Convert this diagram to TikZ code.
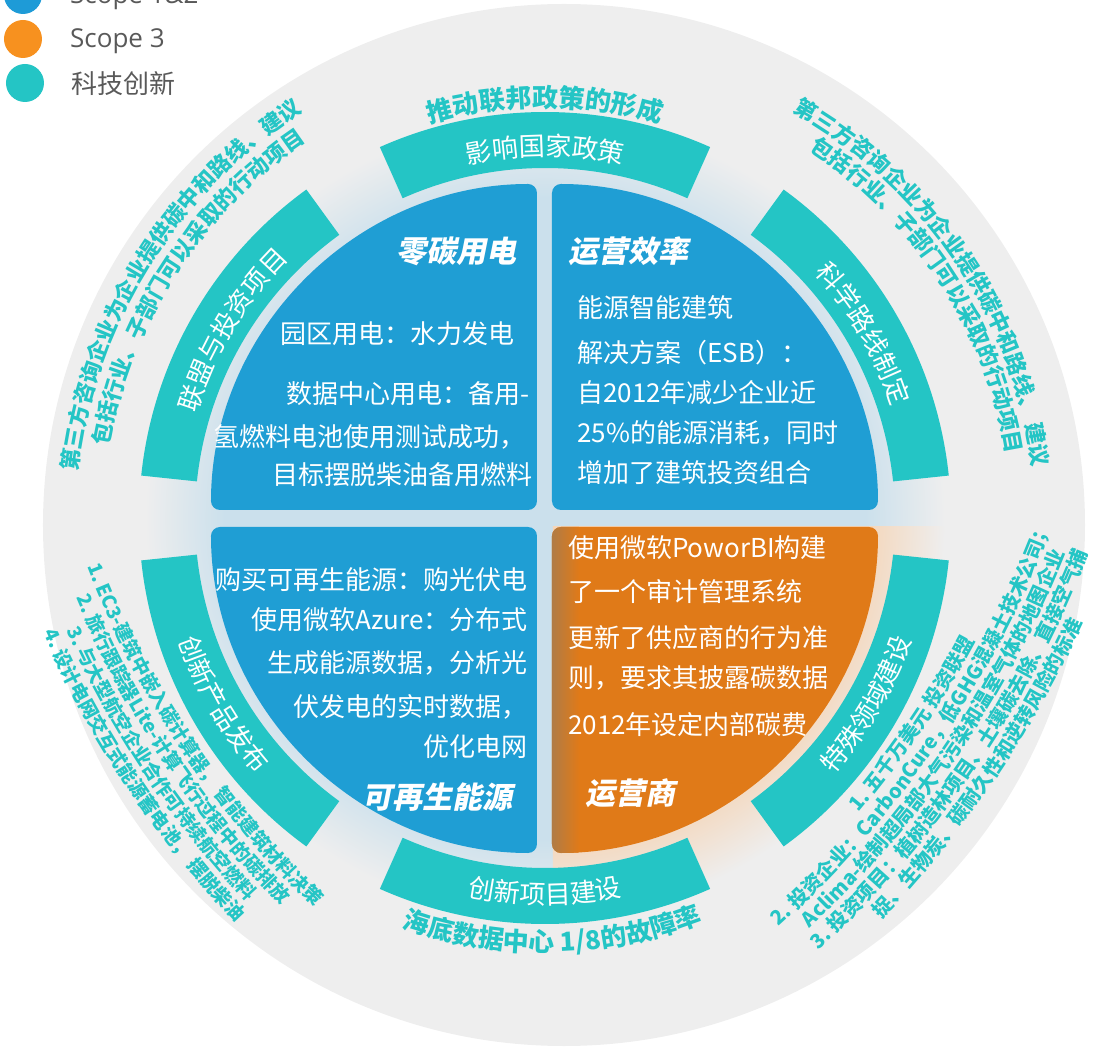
\documentclass[tikz,border=0pt]{standalone}
\usepackage{fontspec}
\setmainfont{Noto Sans CJK SC}
\newfontfamily\titlefont{Noto Sans CJK SC}[FakeSlant=0.2]
\newfontfamily\keyfont{Open Sans}
\usetikzlibrary{
        decorations.text,
        positioning
    }

\definecolor{greyc}{RGB}{238,238,238}
\definecolor{tealc}{RGB}{36,197,197}
\definecolor{bluec}{RGB}{31,158,212}
\definecolor{orngc}{RGB}{224,122,24}
\definecolor{orngdark}{RGB}{176,124,70}
\definecolor{glowb}{RGB}{203,224,236}
\definecolor{glowo}{RGB}{244,214,186}
\definecolor{keyblue}{RGB}{30,155,215}
\definecolor{keyorng}{RGB}{247,145,31}
\definecolor{keygrey}{RGB}{89,89,89}

\pgfdeclareradialshading{glowblue}{\pgfpointorigin}{color(0bp)=(glowb); color(20bp)=(glowb); color(25bp)=(greyc); color(50bp)=(greyc)}
\pgfdeclareradialshading{gloworange}{\pgfpointorigin}{color(0bp)=(glowo); color(20bp)=(glowo); color(25bp)=(greyc); color(50bp)=(greyc)}

\newcommand\outerfont{\bfseries\fontsize{22}{22}\selectfont}
\newcommand\listfont{\bfseries\fontsize{19}{19}\selectfont}
\newcommand\listfontb{\bfseries\fontsize{20}{20}\selectfont}
\newcommand\ringfont{\fontsize{26}{26}\selectfont}
\newcommand\capfont{\bfseries\fontsize{26}{26}\selectfont}

\begin{document}
\begin{tikzpicture}
[x=1pt, y=1pt,
band/.style={fill=tealc},
quad/.style={rounded corners=9pt},
bodytext/.style={text=white, inner sep=0pt, font=\fontsize{26}{26}\selectfont},
titletext/.style={text=white, inner sep=0pt, font=\titlefont\bfseries\fontsize{30}{30}\selectfont},
dot/.style={circle, minimum size=38pt, inner sep=0pt},
keytext/.style={text=keygrey, inner sep=0pt, anchor=west},
]
\useasboundingbox (-545,-539) rectangle (553,518);

% background disc and glow
\fill[greyc] (19,-7) circle[radius=521];
\shade[shading=glowblue] (0,0) circle[radius=400];
\begin{scope}
\clip (8,-9) rectangle (420,-420);
\shade[shading=gloworange] (0,0) circle[radius=400];
\end{scope}

% ring of six bands
\foreach \a in {90,30,-30,-90,-150,150}
  \fill[band] (\a-24:350) arc[start angle=\a-24, end angle=\a+24, radius=350]
    -- (\a+24:406) arc[start angle=\a+24, end angle=\a-24, radius=406] -- cycle;

% four quadrants
\fill[quad, bluec] (-8,8) -- (-8,334) arc[start angle=90, end angle=180, radius=326] -- cycle;
\fill[quad, bluec] (7,8) -- (333,8) arc[start angle=0, end angle=90, radius=326] -- cycle;
\fill[quad, bluec] (-8,-9) -- (-334,-9) arc[start angle=180, end angle=270, radius=326] -- cycle;
\fill[quad, orngc] (7,-9) -- (7,-335) arc[start angle=270, end angle=360, radius=326] -- cycle;
\begin{scope}
\clip[quad] (7,-9) -- (7,-335) arc[start angle=270, end angle=360, radius=326] -- cycle;
\shade[left color=orngdark, right color=orngc] (7,-340) rectangle (34,-5);
\end{scope}

% texts on the bands
\path[decorate, decoration={text along path, text align=center, text color=white, text={|\ringfont|影响国家政策}}]
  (130:362) arc[start angle=130, end angle=50, radius=362];
\path[decorate, decoration={text along path, text align=center, text color=white, text={|\ringfont|科学路线制定}}]
  (70:364) arc[start angle=70, end angle=-10, radius=364];
\path[decorate, decoration={text along path, text align=center, text color=white, text={|\ringfont|联盟与投资项目}}]
  (189:364) arc[start angle=189, end angle=109, radius=364];
\path[decorate, decoration={text along path, text align=center, text color=white, text={|\ringfont|特殊领域建设}}]
  (-70:386) arc[start angle=-70, end angle=10, radius=386];
\path[decorate, decoration={text along path, text align=center, text color=white, text={|\ringfont|创新项目建设}}]
  (-130:386) arc[start angle=-130, end angle=-50, radius=386];
\path[decorate, decoration={text along path, text align=center, text color=white, text={|\ringfont|创新产品发布}}]
  (170:386) arc[start angle=170, end angle=250, radius=386];

% texts outside the bands
\path[decorate, decoration={text along path, text align=center, text color=tealc, text={|\capfont|推动联邦政策的形成}}]
  (130:411) arc[start angle=130, end angle=50, radius=411];
\path[decorate, decoration={text along path, text align=center, text color=tealc, text={|\capfont|海底数据中心 1/8的故障率}}]
  (-129:434) arc[start angle=-129, end angle=-49, radius=434];

\path[shift={(19,-7)}, decorate, decoration={text along path, text align=center, text color=tealc, text={|\outerfont|第三方咨询企业为企业提供碳中和路线、建议}}]
  (188:489) arc[start angle=188, end angle=108, radius=489];
\path[shift={(19,-7)}, decorate, decoration={text along path, text align=center, text color=tealc, text={|\outerfont|包括行业、子部门可以采取的行动项目}}]
  (187:462) arc[start angle=187, end angle=107, radius=462];
\path[shift={(19,-7)}, decorate, decoration={text along path, text align=center, text color=tealc, text={|\outerfont|第三方咨询企业为企业提供碳中和路线、 建议}}]
  (74:472) arc[start angle=74, end angle=-6, radius=472];
\path[shift={(19,-7)}, decorate, decoration={text along path, text align=center, text color=tealc, text={|\outerfont|包括行业、子部门可以采取的行动项目}}]
  (73:448) arc[start angle=73, end angle=-7, radius=448];

% numbered lists, lower left
\path[shift={(420,291)}, decorate, decoration={text along path, text align=center, text color=tealc, text={|\listfont|1. EC3-建筑中嵌入碳计算器， 智能建筑材料决策}}]
  (183.7:941) arc[start angle=183.7, end angle=243.7, radius=941];
\path[shift={(420,291)}, decorate, decoration={text along path, text align=center, text color=tealc, text={|\listfont|2. 旅行跟踪器Lite-计算飞行过程中的碳排放}}]
  (183.7:963) arc[start angle=183.7, end angle=243.7, radius=963];
\path[shift={(420,291)}, decorate, decoration={text along path, text align=center, text color=tealc, text={|\listfont|3. 与大型航空企业合作可持续航空燃料}}]
  (183.7:985) arc[start angle=183.7, end angle=243.7, radius=985];
\path[shift={(420,291)}, decorate, decoration={text along path, text align=center, text color=tealc, text={|\listfont|4. 设计电网交互式能源蓄电池， 摆脱柴油}}]
  (183.7:1007) arc[start angle=183.7, end angle=243.7, radius=1007];

% numbered lists, lower right
\path[shift={(-455,353)}, decorate, decoration={text along path, text align=center, text color=tealc, text={|\listfontb|1. 五千万美元 投资联盟}}]
  (-64.2:1005) arc[start angle=-64.2, end angle=-4.2, radius=1005];
\path[shift={(-455,353)}, decorate, decoration={text along path, text align=center, text color=tealc, text={|\listfontb|2. 投资企业：CarbonCure，低GHG混凝土技术公司；}}]
  (-64.2:1027) arc[start angle=-64.2, end angle=-4.2, radius=1027];
\path[shift={(-455,353)}, decorate, decoration={text along path, text align=center, text color=tealc, text={|\listfontb|Aclima-绘制超局部大气污染和温室气体的地图企业}}]
  (-64.2:1049) arc[start angle=-64.2, end angle=-4.2, radius=1049];
\path[shift={(-455,353)}, decorate, decoration={text along path, text align=center, text color=tealc, text={|\listfontb|3. 投资项目：植树造林项目、土壤碳去除、直接空气捕}}]
  (-64.2:1071) arc[start angle=-64.2, end angle=-4.2, radius=1071];
\path[shift={(-455,353)}, decorate, decoration={text along path, text align=center, text color=tealc, text={|\listfontb|捉、生物炭、碳耐久性和逆转风险的标准}}]
  (-64.2:1093) arc[start angle=-64.2, end angle=-4.2, radius=1093];

% quadrant texts
\node[titletext] (ul0) at (-88,267) {零碳用电};
\node[bodytext] (ul1) at (-147,184) {园区用电：水力发电};
\node[bodytext] (ul2) at (-137,124) {数据中心用电：备用-};
\node[bodytext] (ul3) at (-175,81) {氢燃料电池使用测试成功，};
\node[bodytext] (ul4) at (-142,43) {目标摆脱柴油备用燃料};

\node[titletext] (ur0) at (84,267) {运营效率};
\node[bodytext, anchor=west] (ur1) at (32,210) {能源智能建筑};
\node[bodytext, anchor=west] (ur2) at (32,165) {解决方案（ESB）：};
\node[bodytext, anchor=west] (ur3) at (32,125) {自2012年减少企业近};
\node[bodytext, anchor=west] (ur4) at (32,85) {25\%的能源消耗，同时};
\node[bodytext, anchor=west] (ur5) at (32,45) {增加了建筑投资组合};

\node[bodytext, anchor=east] (ll1) at (-17,-62) {购买可再生能源：购光伏电};
\node[bodytext, anchor=east] (ll2) at (-17,-102) {使用微软Azure：分布式};
\node[bodytext, anchor=east] (ll3) at (-17,-145) {生成能源数据，分析光};
\node[bodytext, anchor=east] (ll4) at (-17,-189) {伏发电的实时数据，};
\node[bodytext, anchor=east] (ll5) at (-17,-229) {优化电网};
\node[titletext] (ll0) at (-107,-279) {可再生能源};

\node[bodytext, anchor=west] (lr1) at (23,-30) {使用微软PoworBI构建};
\node[bodytext, anchor=west] (lr2) at (23,-74) {了一个审计管理系统};
\node[bodytext, anchor=west] (lr3) at (23,-120) {更新了供应商的行为准};
\node[bodytext, anchor=west] (lr4) at (23,-160) {则，要求其披露碳数据};
\node[bodytext, anchor=west] (lr5) at (23,-207) {2012年设定内部碳费};
\node[titletext] (lr0) at (86,-275) {运营商};

% legend
\node[dot, fill=keyblue] (dot1) at (-522,523) {};
\node[dot, fill=keyorng] (dot2) at (-522,479) {};
\node[dot, fill=tealc] (dot3) at (-520,435) {};
\node[keytext, font=\keyfont\fontsize{26}{26}\selectfont] (key1) at (-475,521) {Scope 1\&2};
\node[keytext, font=\keyfont\fontsize{26}{26}\selectfont] (key2) at (-475,477) {Scope 3};
\node[keytext, font=\fontsize{26}{26}\selectfont] (key3) at (-474,434) {科技创新};

\end{tikzpicture}
\end{document}
